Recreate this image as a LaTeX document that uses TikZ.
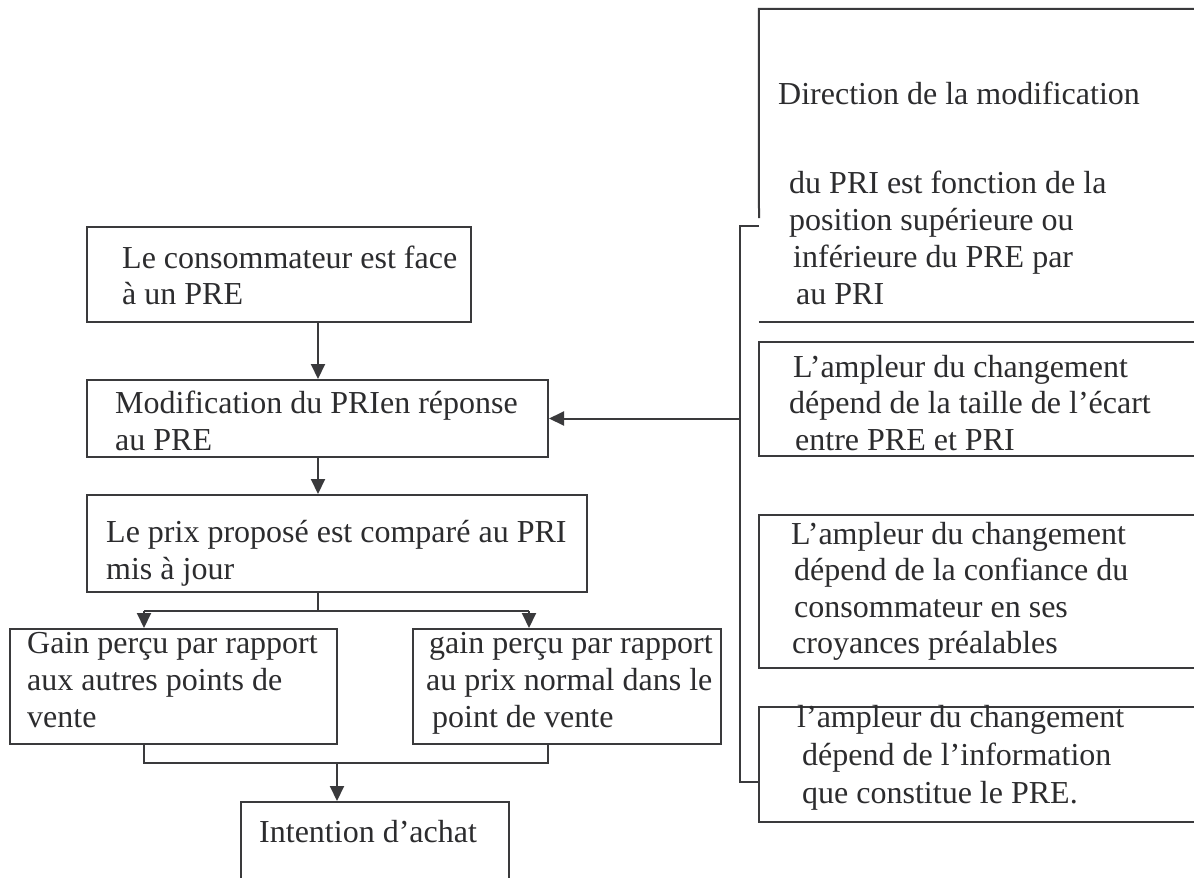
\documentclass[tikz,border=0pt]{standalone}
\usepackage{fontspec}
\setmainfont{Liberation Serif}
\usetikzlibrary{arrows.meta}

\definecolor{ink}{HTML}{3A3A3C}
\definecolor{txt}{HTML}{2C2C2E}

\tikzset{
  box/.style={draw=ink, line width=2pt, inner sep=0pt, rectangle},
  ghost/.style={inner sep=0pt, rectangle},
  conn/.style={draw=ink, line width=2pt},
  arr/.style={conn, -{Triangle[width=14pt,length=15pt]}},
  line/.style={anchor=base west, inner sep=0pt, text=txt,
    font=\fontsize{32}{36.7}\selectfont},
}

\begin{document}
\begin{tikzpicture}[x=1pt, y=-1pt]
\useasboundingbox (0,0) rectangle (1194,878);
\fill[white] (0,0) rectangle (1194,878);
\clip (0,0) rectangle (1194,878);

% ---- left column: process boxes ----
\node[box, minimum width=384pt, minimum height=95pt]  (A) at (279,274.5) {};
\node[box, minimum width=461pt, minimum height=77pt]  (B) at (317.5,418.5) {};
\node[box, minimum width=500pt, minimum height=97pt]  (C) at (337,543.5) {};
\node[box, minimum width=327pt, minimum height=115pt] (D) at (173.5,686.5) {};
\node[box, minimum width=308pt, minimum height=115pt] (E) at (567,686.5) {};
\node[box, minimum width=268pt, minimum height=98pt]  (F) at (375,851) {};

\node[line] (a1) at (122,268) {Le consommateur est face};
\node[line] (a2) at (122,304) {à un PRE};
\node[line] (b1) at (115,413) {Modification du PRIen réponse};
\node[line] (b2) at (115,450) {au PRE};
\node[line] (c1) at (106,542) {Le prix proposé est comparé au PRI};
\node[line] (c2) at (106,579) {mis à jour};
\node[line] (d1) at (27,653) {Gain perçu par rapport};
\node[line] (d2) at (27,690) {aux autres points de};
\node[line] (d3) at (27,727) {vente};
\node[line] (e1) at (429,653) {gain perçu par rapport};
\node[line] (e2) at (426,690) {au prix normal dans le};
\node[line] (e3) at (432,727) {point de vente};
\node[line] (f1) at (259,842) {Intention d’achat};

% ---- right column: factor boxes (open past the right edge) ----
\node[ghost, minimum width=451pt, minimum height=313pt] (R1) at (984.5,165.5) {};
\node[box, minimum width=451pt, minimum height=114pt] (R2) at (984.5,399) {};
\node[box, minimum width=451pt, minimum height=153pt] (R3) at (984.5,591.5) {};
\node[box, minimum width=451pt, minimum height=115pt] (R4) at (984.5,764.5) {};

\coordinate (r1gap) at (759,218);
\draw[conn] (R1.north east) -- (R1.north west) -- (r1gap);
\draw[conn] (R1.south west) -- (R1.south east);

\node[line] (r11) at (778,104) {Direction de la modification};
\node[line] (r12) at (789,193) {du PRI est fonction de la};
\node[line] (r13) at (789,230) {position supérieure ou};
\node[line] (r14) at (793,267) {inférieure du PRE par};
\node[line] (r15) at (796,304) {au PRI};
\node[line] (r21) at (793,377) {L’ampleur du changement};
\node[line] (r22) at (789,413) {dépend de la taille de l’écart};
\node[line] (r23) at (795,450) {entre PRE et PRI};
\node[line] (r31) at (791,544) {L’ampleur du changement};
\node[line] (r32) at (794,580) {dépend de la confiance du};
\node[line] (r33) at (794,617) {consommateur en ses};
\node[line] (r34) at (792,653) {croyances préalables};
\node[line] (r41) at (797,727) {l’ampleur du changement};
\node[line] (r42) at (802,765) {dépend de l’information};
\node[line] (r43) at (802,803) {que constitue le PRE.};

% ---- bracket gathering the factors, feeding the update box ----
\coordinate (brtop) at (740,226);
\coordinate (brbot) at (740,782);
\draw[conn] (R1.west |- brtop) -- (brtop) -- (brbot) -- (R4.west |- brbot);
\draw[arr] (brtop |- B.east) -- (B.east);

% ---- main flow ----
\coordinate (sp) at (318,0);
\draw[arr] (A.south -| sp) -- (B.north -| sp);
\draw[arr] (B.south -| sp) -- (C.north -| sp);

\coordinate (dIn) at (144,611);
\coordinate (eIn) at (529,611);
\draw[conn] (C.south -| sp) -- (sp |- dIn);
\draw[conn] (dIn) -- (eIn);
\draw[arr] (dIn) -- (D.north -| dIn);
\draw[arr] (eIn) -- (E.north -| eIn);

\coordinate (mL) at (144,763);
\coordinate (mR) at (548,763);
\coordinate (mC) at (337,763);
\draw[conn] (D.south -| mL) -- (mL) -- (mR) -- (E.south -| mR);
\draw[arr] (mC) -- (F.north -| mC);
\end{tikzpicture}
\end{document}
